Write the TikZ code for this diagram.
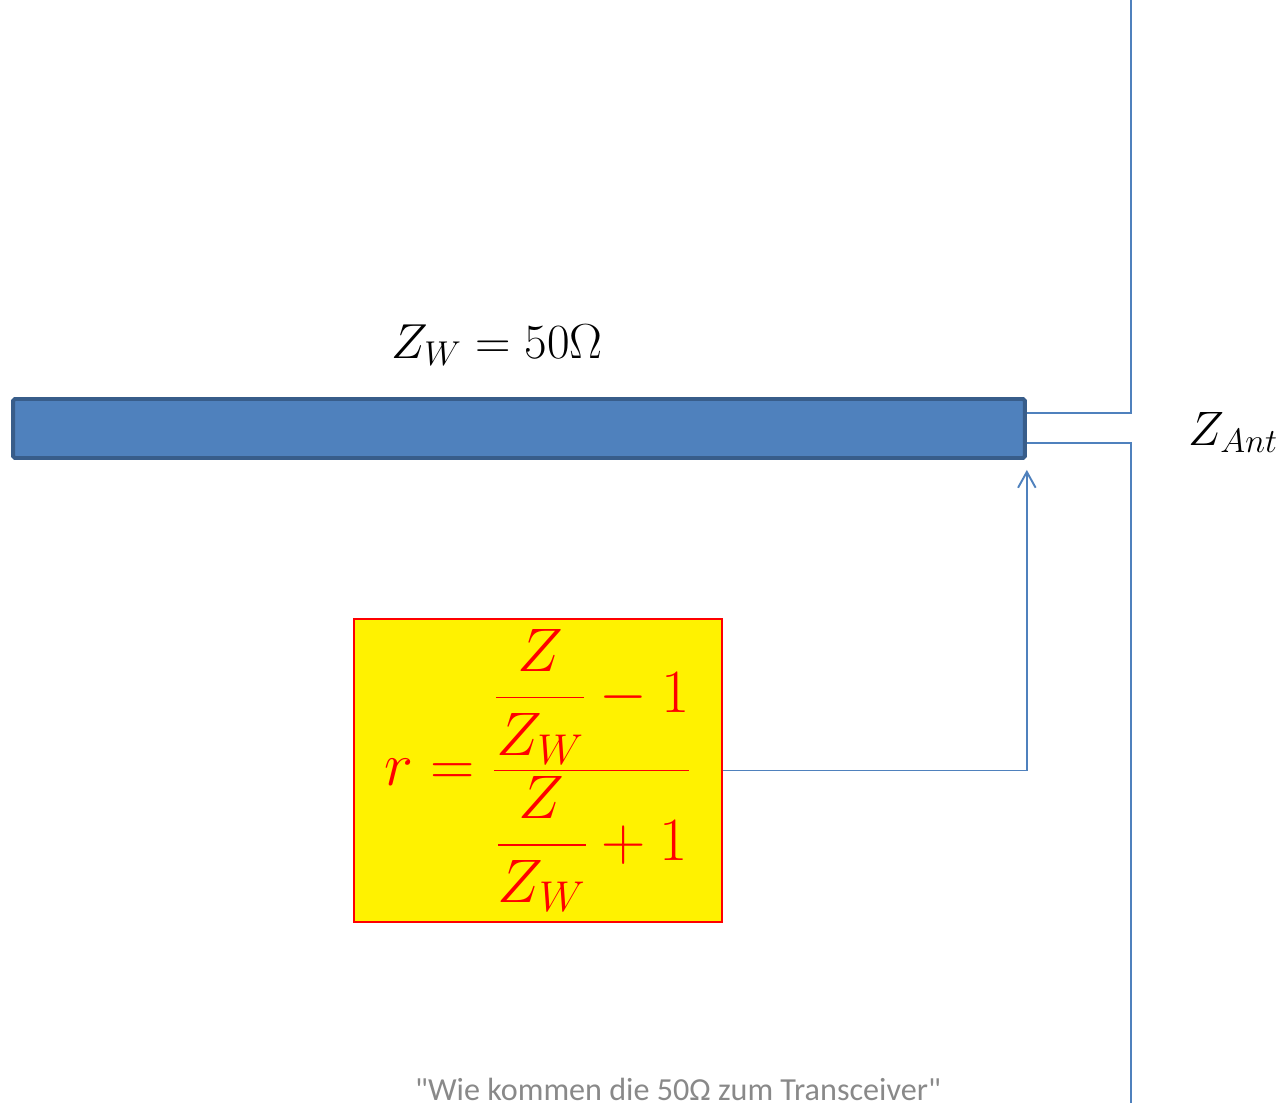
\RequirePackage{fix-cm}
\documentclass[tikz,border=0pt]{standalone}
\usepackage{amsmath}
\usepackage{fontspec}
\newfontfamily\footfont{Carlito}
\usetikzlibrary{positioning, arrows.meta, calc}

\definecolor{lineblue}{RGB}{79,129,189}
\definecolor{barborder}{RGB}{56,93,138}
\definecolor{footgray}{RGB}{137,137,137}

\tikzset{
  feed/.style={draw=lineblue, line width=1.1pt},
  coax/.style={draw=barborder, fill=lineblue, line width=2.2pt, rounded corners=1pt,
    minimum width=20.24cm, minimum height=1.18cm, inner sep=0pt},
  formbox/.style={draw=red, fill=yellow, line width=0.8pt, text=red,
    minimum width=7.36cm, minimum height=6.06cm, inner sep=0pt},
}

\begin{document}
\begin{tikzpicture}[x=0.02cm, y=-0.02cm]
\useasboundingbox (0,0) rectangle (1281,1103);

% line and antenna
\node[coax] (bar) at (519,428.5) {};
\coordinate (anttop) at (1131,0);
\coordinate (antbot) at (1131,1103);
\draw[feed] ($(bar.east)+(0,-15.5)$) -| (anttop);
\draw[feed] ($(bar.east)+(0,14.5)$) -| (antbot);

% labels
\node[anchor=base, font=\fontsize{28}{33}\selectfont] (zw) at (497,358) {$Z_W = 50\Omega$};
\node[anchor=base, font=\fontsize{27.5}{32}\selectfont] (zant) at (1233,445) {$Z_{Ant}$};

% reflection factor
\node[formbox, font=\fontsize{35}{41}\selectfont] (refl) at (538,770.5)
  {$\displaystyle r = \frac{\dfrac{Z}{Z_W}-1}{\dfrac{Z}{Z_W}+1}$};
\draw[feed, -{Straight Barb[length=9pt, width=10pt]}] (refl.east) -| ($(bar.south east)+(0,10)$);

\node[anchor=base, text=footgray, font=\footfont\fontsize{18.3}{21}\selectfont] (foot) at (678,1100)
  {"Wie kommen die 50Ω zum Transceiver"};
\end{tikzpicture}
\end{document}
